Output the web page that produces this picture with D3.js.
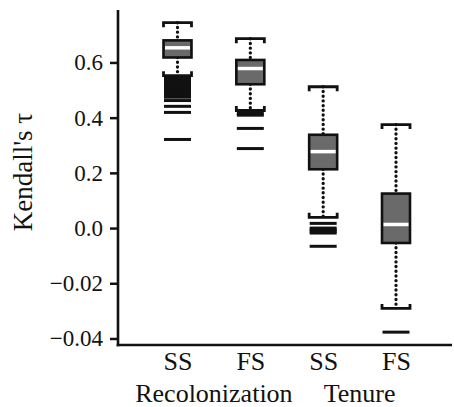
<!DOCTYPE html>
<html>
<head>
<meta charset="utf-8">
<script src="https://cdn.jsdelivr.net/npm/d3@7/dist/d3.min.js"></script>
<style>
  html, body { margin: 0; padding: 0; background: #fff; }
  svg { display: block; }
  text { font-family: "Liberation Serif", "DejaVu Serif", serif; fill: #111; }
</style>
</head>
<body>
<svg id="chart" width="454" height="407"></svg>
<script>
// Kendall's tau distributions by analysis and sampling scheme
const groups = ["Recolonization", "Tenure"];
const schemes = ["SS", "FS", "SS", "FS"];
const groupOf = [0, 0, 1, 1];

const whiskerHigh = [0.744, 0.686, 0.512, 0.375];
const upperQuartile = [0.680, 0.609, 0.338, 0.125];
const medians = [0.653, 0.578, 0.277, 0.013];
const lowerQuartile = [0.618, 0.521, 0.213, -0.054];
const whiskerLow = [0.552, 0.426, 0.039, -0.291];
const outliers = [
  [0.545, 0.539, 0.533, 0.527, 0.521, 0.515, 0.509, 0.503, 0.497, 0.491, 0.485, 0.479, 0.474,
   0.462, 0.441, 0.419, 0.321],
  [0.415, 0.409, 0.361, 0.288],
  [0.017, 0.000, -0.006, -0.012, -0.018, -0.066],
  [-0.377]
];

const tickValues = [-0.4, -0.2, 0.0, 0.2, 0.4, 0.6];
const tickLabels = ["\u22120.04", "\u22120.02", "0.0", "0.2", "0.4", "0.6"];

const serif = "'Liberation Serif', 'DejaVu Serif', serif";
const svg = d3.select("#chart");
const plotLeft = 118, plotRight = 452, plotTop = 10, plotBottom = 345;

const keys = schemes.map((s, i) => groups[groupOf[i]] + " " + s);
const rows = keys.map((k, i) => ({
  key: k, hi: whiskerHigh[i], q3: upperQuartile[i], med: medians[i],
  q1: lowerQuartile[i], lo: whiskerLow[i], out: outliers[i]
}));

const x = d3.scalePoint().domain(keys).range([177.5, 396]);
const y = d3.scaleLinear().domain([-0.4236, 0.790]).range([plotBottom, plotTop]);

const boxW = 28, capW = 28, capLeg = 4.5, outW = 27;

// y axis
const yAxis = svg.append("g")
  .attr("transform", `translate(${plotLeft},0)`)
  .call(d3.axisLeft(y).tickValues(tickValues)
    .tickFormat((d, i) => tickLabels[i])
    .tickSize(8).tickSizeOuter(0).tickPadding(7))
  .attr("font-family", serif).attr("font-size", 23);
yAxis.select(".domain").remove();
yAxis.selectAll(".tick line").attr("stroke", "#111").attr("stroke-width", 2.5);
yAxis.selectAll(".tick text").style("font-family", serif).attr("fill", "#111");

svg.append("line").attr("x1", plotLeft).attr("x2", plotLeft)
  .attr("y1", plotTop).attr("y2", plotBottom + 1.2)
  .attr("stroke", "#111").attr("stroke-width", 2.6);

// x axis
const xAxis = svg.append("g")
  .attr("transform", `translate(0,${plotBottom})`)
  .call(d3.axisBottom(x).tickSize(0).tickPadding(6.5)
    .tickFormat((d, i) => schemes[i]))
  .attr("font-family", serif).attr("font-size", 26);
xAxis.select(".domain").remove();
xAxis.selectAll(".tick text").style("font-family", serif).attr("fill", "#111");

svg.append("line").attr("x1", plotLeft - 1.3).attr("x2", plotRight)
  .attr("y1", plotBottom).attr("y2", plotBottom)
  .attr("stroke", "#111").attr("stroke-width", 2.6);

// group labels
groups.forEach((g, gi) => {
  const idx = keys.filter((k, i) => groupOf[i] === gi);
  const cx = d3.mean(idx, k => x(k));
  svg.append("text").attr("x", cx).attr("y", 402)
    .attr("text-anchor", "middle").attr("font-size", 26).text(g);
});

// y axis title
svg.append("text")
  .attr("transform", `translate(32,${172}) rotate(-90)`)
  .attr("text-anchor", "middle").attr("font-size", 27)
  .text("Kendall's \u03c4");

// boxes
const box = svg.append("g").selectAll("g").data(rows).join("g");

box.append("line")
  .attr("x1", d => x(d.key)).attr("x2", d => x(d.key))
  .attr("y1", d => y(d.hi)).attr("y2", d => y(d.q3))
  .attr("stroke", "#111").attr("stroke-width", 3.3)
  .attr("stroke-linecap", "round").attr("stroke-dasharray", "0.1 4.6");
box.append("line")
  .attr("x1", d => x(d.key)).attr("x2", d => x(d.key))
  .attr("y1", d => y(d.q1)).attr("y2", d => y(d.lo))
  .attr("stroke", "#111").attr("stroke-width", 3.3)
  .attr("stroke-linecap", "round").attr("stroke-dasharray", "0.1 4.6");

box.append("path")
  .attr("d", d => `M${x(d.key) - capW / 2},${y(d.hi) + capLeg}V${y(d.hi)}H${x(d.key) + capW / 2}V${y(d.hi) + capLeg}`)
  .attr("fill", "none").attr("stroke", "#111").attr("stroke-width", 2.8);
box.append("path")
  .attr("d", d => `M${x(d.key) - capW / 2},${y(d.lo) - capLeg}V${y(d.lo)}H${x(d.key) + capW / 2}V${y(d.lo) - capLeg}`)
  .attr("fill", "none").attr("stroke", "#111").attr("stroke-width", 2.8);

box.append("rect")
  .attr("x", d => x(d.key) - boxW / 2).attr("width", boxW)
  .attr("y", d => y(d.q3)).attr("height", d => y(d.q1) - y(d.q3))
  .attr("fill", "#6a6a6a").attr("stroke", "#111").attr("stroke-width", 2.6);

box.append("line")
  .attr("x1", d => x(d.key) - boxW / 2 + 1.5).attr("x2", d => x(d.key) + boxW / 2 - 1.5)
  .attr("y1", d => y(d.med)).attr("y2", d => y(d.med))
  .attr("stroke", "#fff").attr("stroke-width", 3.5);

box.each(function (d) {
  d3.select(this).selectAll("line.out").data(d.out).join("line")
    .attr("class", "out")
    .attr("x1", x(d.key) - outW / 2).attr("x2", x(d.key) + outW / 2)
    .attr("y1", v => y(v)).attr("y2", v => y(v))
    .attr("stroke", "#111").attr("stroke-width", 3);
});
</script>
</body>
</html>
